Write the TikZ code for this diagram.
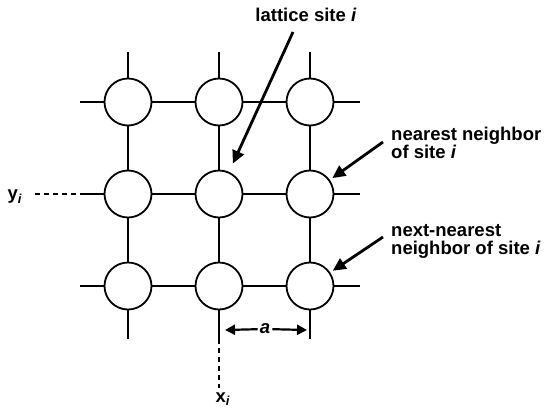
\documentclass[tikz,border=0pt]{standalone}
\usepackage{fontspec}
\setmainfont{Liberation Sans}
\usetikzlibrary{arrows.meta}
\begin{document}
\begin{tikzpicture}[x=1pt,y=-1pt,
  site/.style={circle,draw,line width=1.8pt,fill=white,minimum size=47pt,inner sep=0pt},
  bond/.style={line width=1.4pt},
  guide/.style={line width=1.4pt,dash pattern=on 5pt off 4pt},
  callout/.style={line width=2.8pt,-{Triangle[length=13pt,width=12pt]}},
  dimarrow/.style={line width=2.2pt,-{Triangle[length=10pt,width=10pt]}},
  lbl/.style={font=\fontsize{18.5}{18}\selectfont\bfseries,inner sep=0pt,align=left}]
\useasboundingbox (0,0) rectangle (545,407);
% stub end points
\coordinate (l1) at (80,102); \coordinate (l2) at (80,194); \coordinate (l3) at (80,286);
\coordinate (r1) at (360,102); \coordinate (r2) at (360,194); \coordinate (r3) at (360,286);
\coordinate (t1) at (128,52); \coordinate (t2) at (219,52); \coordinate (t3) at (310,52);
\coordinate (b1) at (128,339); \coordinate (b2) at (219,339); \coordinate (b3) at (310,339);
% grid lines behind sites
\draw[bond] (l1) -- (r1) (l2) -- (r2) (l3) -- (r3);
\draw[bond] (t1) -- (b1) (t2) -- (b2) (t3) -- (b3);
% sites
\node[site] (s11) at (128,102) {};
\node[site] (s12) at (219,102) {};
\node[site] (s13) at (310,102) {};
\node[site] (s21) at (128,194) {};
\node[site] (s22) at (219,194) {};
\node[site] (s23) at (310,194) {};
\node[site] (s31) at (128,286) {};
\node[site] (s32) at (219,286) {};
\node[site] (s33) at (310,286) {};
% axes guides
\node[lbl] (yi) at (15,197) {y\textsubscript{\textit{i}}};
\coordinate (yl) at (35,194);
\draw[guide] (yl) -- (l2);
\coordinate (xe) at (219,388);
\draw[guide] (b2) -- (xe);
\node[lbl] (xi) at (223,399) {x\textsubscript{\textit{i}}};
% labels
\node[lbl] (ls) at (306,15) {lattice site \textit{i}};
\node[lbl,anchor=west] (nn) at (391,143) {nearest neighbor\\of site \textit{i}};
\node[lbl,anchor=west] (nnn) at (391,241) {next-nearest\\neighbor of site \textit{i}};
% callouts
\coordinate (lt) at (293,32);
\draw[callout,shorten >=9pt] (lt) -- (s22);
\coordinate (nt) at (383,142);
\draw[callout,shorten >=3pt] (nt) -- (s23);
\coordinate (ntt) at (383,237);
\draw[callout,shorten >=3pt] (ntt) -- (s33);
% lattice constant
\node[lbl,font=\fontsize{18.5}{18}\selectfont\bfseries\itshape,inner sep=2pt] (a) at (265,329) {a};
\coordinate (dl) at (225,330);
\coordinate (dr) at (307,330);
\draw[dimarrow] (a) -- (dl);
\draw[dimarrow] (a) -- (dr);
\end{tikzpicture}
\end{document}
